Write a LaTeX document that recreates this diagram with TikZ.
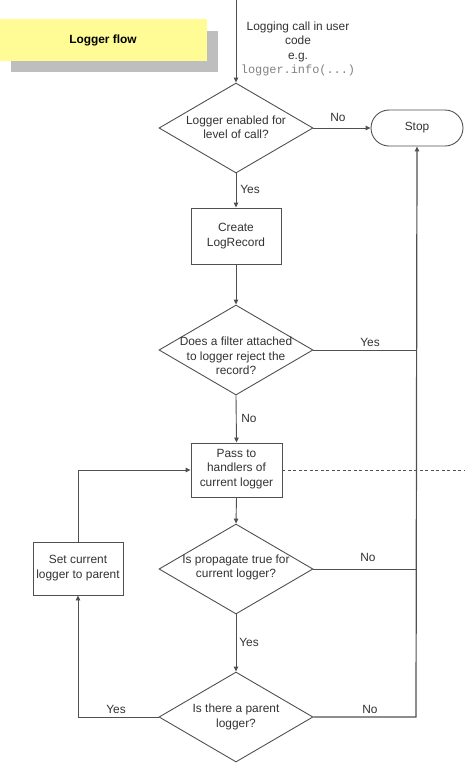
\documentclass[tikz,border=0pt]{standalone}
\usepackage{fontspec}
\setmainfont{Liberation Sans}
\setmonofont{Liberation Mono}
\usetikzlibrary{shapes.geometric,arrows.meta}
\definecolor{linec}{RGB}{80,80,80}
\definecolor{txtc}{RGB}{50,50,50}
\definecolor{monoc}{RGB}{130,130,130}
\definecolor{titley}{RGB}{255,252,150}
\definecolor{titleg}{RGB}{190,190,190}
\begin{document}
\begin{tikzpicture}[x=1pt,y=-1pt,
  every node/.style={font=\fontsize{11.9}{14.3}\selectfont, text=txtc},
  conn/.style={draw=linec, line width=0.9pt},
  arr/.style={conn, -{Triangle[length=5pt,width=4.5pt]}},
  decision/.style={diamond, draw=linec, line width=0.9pt, minimum width=154pt, minimum height=90pt, inner sep=0pt},
  procbox/.style={rectangle, draw=linec, line width=0.9pt, minimum width=90pt, inner sep=0pt},
  txt/.style={align=center, inner sep=0pt},
  lbl/.style={inner sep=0pt}]
\useasboundingbox (0,0) rectangle (465,769);
% title
\fill[titleg] (11,31) rectangle (218,72);
\fill[titley] (0,19) rectangle (207,61);
\node[txt, font=\fontsize{11.9}{14.3}\selectfont\bfseries, text=black] (title) at (103,40) {Logger flow};
% start text
\coordinate (start) at (236,0);
\node[txt] (calltxt) at (298,49) {Logging call in user\\code\\e.g.\\{\ttfamily\color{monoc}logger.info(...)}};
% nodes
\node[decision] (d1) at (236,128) {};
\node[txt] (d1t) at (236,127.5) {Logger enabled for\\level of call?};
\node[rectangle, draw=linec, line width=0.9pt, rounded corners=18pt, minimum width=92pt, minimum height=36pt, inner sep=0pt] (stop) at (417,128) {Stop};
\node[procbox, minimum height=56pt] (create) at (236,236) {};
\node[txt] (createt) at (236,236) {Create\\LogRecord};
\node[decision] (d2) at (236,350) {};
\node[txt] (d2t) at (236,356) {Does a filter attached\\to logger reject the\\record?};
\node[procbox, minimum width=91pt, minimum height=54pt] (pass) at (236.5,470) {};
\node[txt] (passt) at (236.5,469) {Pass to\\handlers of\\current logger};
\node[decision] (d3) at (236,569) {};
\node[txt] (d3t) at (236,567.5) {Is propagate true for\\current logger?};
\node[decision] (d4) at (236,717) {};
\node[txt] (d4t) at (236,717) {Is there a parent\\logger?};
\node[procbox, minimum height=53pt] (set) at (78,568.5) {};
\node[txt] (sett) at (78,568) {Set current\\logger to parent};
% right collector line
\coordinate (r2) at (416,350);
\coordinate (r3) at (416,569);
\coordinate (r4) at (416,717);
\coordinate (l4) at (78,717);
\coordinate (lp) at (78,470);
\coordinate (dashend) at (465,470);
% connectors
\draw[arr] (start) -- (d1.north);
\draw[arr] (d1.east) -- (stop.west);
\draw[arr] (d1.south) -- (create.north);
\draw[arr] (create.south) -- (d2.north);
\draw[conn] (d2.east) -- (r2);
\draw[arr] (d2.south) -- (pass.north);
\draw[conn, dashed, dash pattern=on 3pt off 2.5pt] (pass.east) -- (dashend);
\draw[arr] (pass.south) -- (d3.north);
\draw[conn] (d3.east) -- (r3);
\draw[arr] (d3.south) -- (d4.north);
\draw[arr, line width=1.2pt] (d4.east) -- (r4) -- (stop.south);
\draw[arr] (d4.west) -- (l4) -- (set.south);
\draw[arr] (set.north) -- (lp) -- (pass.west);
% labels
\node[lbl] (l1) at (338,117) {No};
\node[lbl] (l2) at (250,189) {Yes};
\node[lbl] (l3) at (370,342) {Yes};
\node[lbl] (l4n) at (249,418) {No};
\node[lbl] (l5) at (368,557) {No};
\node[lbl] (l6) at (249,642) {Yes};
\node[lbl] (l7) at (116,709) {Yes};
\node[lbl] (l8) at (370,709) {No};
\end{tikzpicture}
\end{document}
